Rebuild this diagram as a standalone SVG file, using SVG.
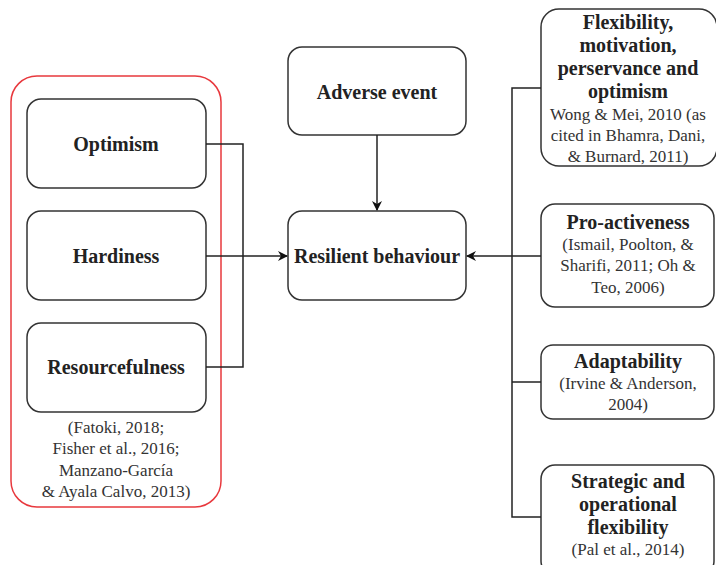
<svg xmlns="http://www.w3.org/2000/svg" width="716" height="565" viewBox="0 0 716 565">
<style>
.box{fill:#fff;stroke:#333;stroke-width:1.5}
.t{font-weight:bold;font-size:20px;fill:#222;text-anchor:middle}
.c{font-size:17px;fill:#333;text-anchor:middle}
.ln{fill:none;stroke:#222;stroke-width:1.5}
</style>
<defs>
<marker id="ah" markerWidth="10" markerHeight="10" refX="9" refY="5" orient="auto" markerUnits="userSpaceOnUse">
<path d="M0,0 L10,5 L0,10 L3,5 Z" fill="#111"/>
</marker>
</defs>
<rect width="716" height="565" fill="#fff"/>
<g font-family="Liberation Serif, Times New Roman, DejaVu Serif, serif">
<g id="group-left">
<rect x="11" y="76" width="210" height="431" rx="26" fill="none" stroke="#e8383d" stroke-width="1.5"/>
<text class="c" x="116" y="433">(Fatoki, 2018;</text>
<text class="c" x="116" y="454">Fisher et al., 2016;</text>
<text class="c" x="116" y="476">Manzano-García</text>
<text class="c" x="116" y="497">&amp; Ayala Calvo, 2013)</text>
</g>
<g id="optimism"><rect class="box" x="27" y="99" width="179" height="89" rx="14"/><text class="t" x="116" y="151">Optimism</text></g>
<g id="hardiness"><rect class="box" x="27" y="211" width="179" height="89" rx="14"/><text class="t" x="116" y="263">Hardiness</text></g>
<g id="resourcefulness"><rect class="box" x="27" y="323" width="179" height="89" rx="14"/><text class="t" x="116" y="374">Resourcefulness</text></g>
<g id="adverse"><rect class="box" x="288" y="47" width="178" height="88" rx="14"/><text class="t" x="377" y="99">Adverse event</text></g>
<g id="resilient"><rect class="box" x="288" y="211" width="178" height="89" rx="14"/><text class="t" x="377" y="263">Resilient behaviour</text></g>
<g id="flexibility"><rect class="box" x="541" y="9" width="176" height="157" rx="18"/>
<text class="t" x="628" y="29">Flexibility,</text>
<text class="t" x="628" y="52">motivation,</text>
<text class="t" x="628" y="75">perservance and</text>
<text class="t" x="628" y="98">optimism</text>
<text class="c" x="628" y="120">Wong &amp; Mei, 2010 (as</text>
<text class="c" x="628" y="141">cited in Bhamra, Dani,</text>
<text class="c" x="628" y="162">&amp; Burnard, 2011)</text>
</g>
<g id="proactiveness"><rect class="box" x="541" y="204" width="173" height="103" rx="14"/>
<text class="t" x="628" y="229">Pro-activeness</text>
<text class="c" x="628" y="250">(Ismail, Poolton, &amp;</text>
<text class="c" x="628" y="271">Sharifi, 2011; Oh &amp;</text>
<text class="c" x="628" y="293">Teo, 2006)</text>
</g>
<g id="adaptability"><rect class="box" x="541" y="345" width="173" height="74" rx="12"/>
<text class="t" x="628" y="368">Adaptability</text>
<text class="c" x="628" y="389">(Irvine &amp; Anderson,</text>
<text class="c" x="628" y="410">2004)</text>
</g>
<g id="strategic"><rect class="box" x="541" y="465" width="173" height="110" rx="14"/>
<text class="t" x="628" y="488">Strategic and</text>
<text class="t" x="628" y="511">operational</text>
<text class="t" x="628" y="534">flexibility</text>
<text class="c" x="628" y="555">(Pal et al., 2014)</text>
</g>
</g>
<g id="connectors">
<path class="ln" d="M206,144 H243 V367 H206"/>
<path class="ln" d="M206,256 H287" marker-end="url(#ah)"/>
<path class="ln" d="M377,135 V210" marker-end="url(#ah)"/>
<path class="ln" d="M541,88 H512 V517 H541"/>
<path class="ln" d="M512,256 H467" marker-end="url(#ah)"/>
<path class="ln" d="M512,256 H541"/>
<path class="ln" d="M512,382 H541"/>
</g>
</svg>
